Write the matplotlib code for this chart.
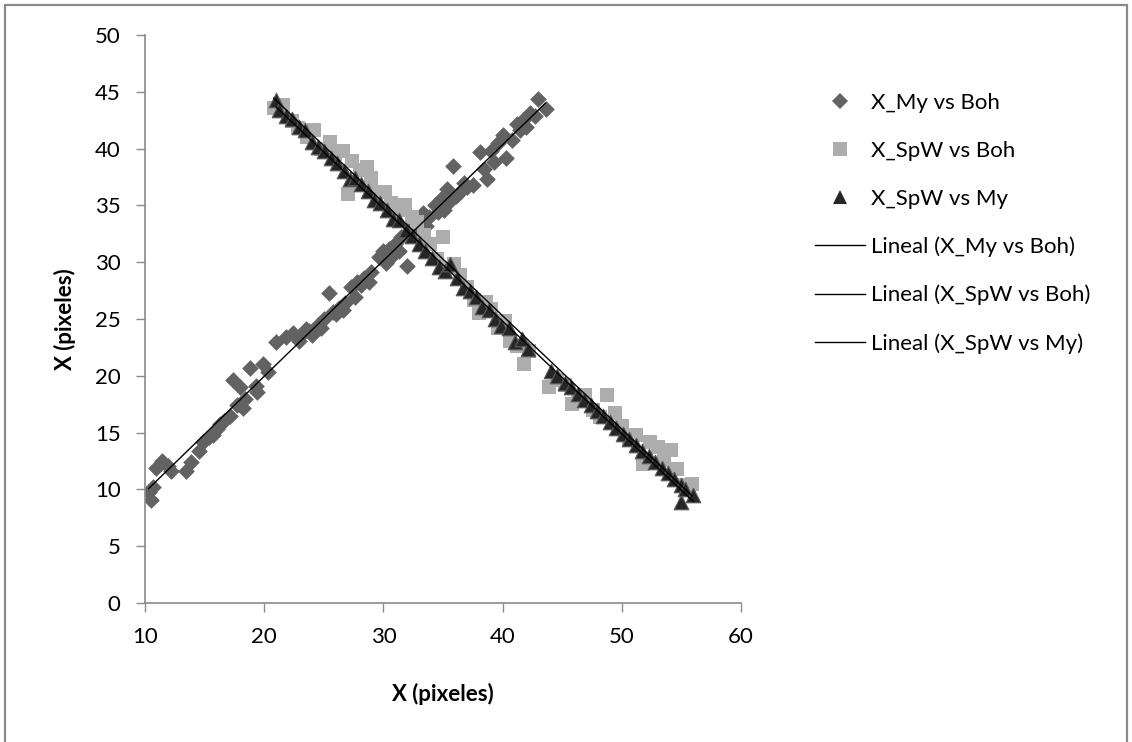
import numpy as np
import matplotlib
matplotlib.use("Agg")
import matplotlib.pyplot as plt
from matplotlib.lines import Line2D
from matplotlib.patches import Rectangle

plt.rcParams['font.family'] = ['Lato', 'DejaVu Sans']

# X_My vs Boh (rombos)
my_boh_x = [10.3, 10.5, 10.9, 11.4, 11.9, 13.4, 13.9, 14.5, 14.9, 15.4, 16.0, 16.6, 17.1,
            17.4, 17.7, 18.0, 18.4, 18.8, 19.3, 19.4, 19.9, 20.3, 21.0, 21.8, 22.4, 23.0,
            23.5, 24.0, 24.5, 25.0, 25.4, 25.8, 26.3, 26.8, 27.3, 27.8, 28.4, 29.0, 29.6,
            30.0, 30.5, 31.0, 31.5, 32.0, 32.3, 32.8, 33.3, 33.8, 34.3, 34.8, 35.3, 35.8,
            36.3, 36.8, 37.5, 38.1, 38.7, 39.0, 39.6, 40.0, 40.3, 40.8, 41.2, 41.8, 42.3,
            43.0, 43.6,
            10.7, 12.2, 15.7, 16.3, 18.2, 22.9, 23.8, 24.8, 26.0, 26.6, 27.6, 28.1, 28.8,
            30.2, 30.8, 31.3, 33.0, 33.6, 34.6, 35.1, 35.6, 36.1, 37.0, 38.4, 39.3, 41.5,
            42.0, 42.7]
my_boh_y = [9.8, 9.1, 11.9, 12.5, 12.1, 11.6, 12.4, 13.4, 14.2, 14.6, 15.3, 16.0, 16.5,
            19.6, 17.4, 19.0, 18.0, 20.7, 19.1, 18.6, 21.0, 20.3, 23.0, 23.4, 23.8, 23.5,
            24.1, 23.6, 24.5, 25.0, 27.3, 25.6, 26.0, 26.4, 27.8, 28.3, 28.6, 29.1, 30.5,
            31.0, 31.2, 31.6, 32.2, 29.7, 33.0, 33.5, 34.3, 34.0, 35.0, 35.6, 36.4, 38.5,
            36.0, 37.0, 36.8, 39.7, 37.3, 39.8, 40.5, 41.2, 39.2, 40.8, 42.2, 42.6, 43.1,
            44.4, 43.5,
            10.2, 11.6, 14.8, 15.8, 17.2, 23.1, 23.9, 24.2, 25.4, 25.8, 26.9, 28.0, 28.3,
            29.9, 30.6, 31.0, 32.6, 33.2, 34.4, 34.6, 35.4, 35.8, 36.6, 38.2, 38.8, 41.6,
            41.9, 42.9]

# X_SpW vs Boh (cuadrados)
spw_boh_x = [20.8, 21.6, 22.3, 22.8, 23.6, 24.2, 24.8, 25.5, 25.9, 26.6, 27.0, 27.4, 28.0,
             28.6, 29.0, 29.5, 30.1, 30.6, 31.2, 31.8, 32.4, 32.8, 33.4, 33.9, 34.5, 35.0,
             35.4, 35.9, 36.4, 37.0, 37.6, 38.0, 38.6, 39.0, 39.6, 40.2, 40.6, 41.2, 41.8,
             42.2, 43.9, 44.6, 45.2, 45.8, 46.3, 46.9, 47.6, 48.2, 48.8, 49.4, 50.0, 50.6,
             51.2, 51.8, 52.4, 53.0, 53.5, 54.1, 54.6, 55.2, 55.9]
spw_boh_y = [43.6, 43.8, 42.4, 41.8, 41.0, 41.6, 40.0, 40.6, 39.5, 39.8, 36.0, 38.9, 38.1,
             38.4, 37.4, 36.2, 36.2, 35.2, 34.6, 35.0, 34.0, 33.5, 32.4, 31.6, 30.3, 32.2,
             29.5, 29.8, 28.9, 27.8, 26.7, 25.5, 26.5, 25.9, 24.2, 24.8, 23.1, 22.6, 21.0,
             22.2, 19.0, 19.6, 19.2, 17.5, 18.1, 18.3, 17.0, 16.4, 18.3, 16.7, 15.6, 14.4,
             14.8, 12.2, 14.2, 13.7, 12.6, 13.5, 11.8, 10.4, 10.5]

# X_SpW vs My (triangulos)
spw_my_x = [21.0, 21.2, 21.8, 22.3, 22.9, 23.4, 24.0, 24.5, 25.0, 25.6, 26.1, 26.7, 27.2,
            27.6, 28.1, 28.7, 29.2, 29.7, 30.3, 30.8, 31.3, 31.9, 32.4, 33.0, 33.5, 34.1,
            34.7, 35.2, 35.6, 36.2, 36.7, 37.3, 37.8, 38.3, 38.9, 39.4, 39.9, 40.5, 41.0,
            41.6, 42.1, 44.1, 44.6, 45.2, 45.7, 46.3, 46.8, 47.4, 47.9, 48.4, 49.0, 49.5,
            50.1, 50.6, 51.2, 51.7, 52.3, 52.8, 53.4, 53.9, 54.4, 55.0, 55.0, 55.3, 56.0]
spw_my_y = [44.3, 43.4, 42.9, 42.6, 41.9, 41.6, 40.6, 40.1, 39.8, 39.2, 38.7, 38.0, 37.3,
            37.4, 36.9, 36.3, 35.5, 35.2, 34.6, 33.8, 33.7, 32.8, 32.3, 31.6, 31.0, 30.4,
            29.6, 29.2, 29.8, 28.6, 27.7, 27.5, 26.9, 26.1, 25.8, 25.0, 24.4, 24.2, 23.0,
            23.2, 22.4, 20.4, 20.0, 19.4, 19.0, 18.4, 17.9, 17.4, 16.9, 16.5, 15.9, 15.4,
            14.9, 14.4, 13.9, 13.4, 12.9, 12.4, 11.9, 11.4, 10.9, 10.4, 8.9, 10.0, 9.5]

labels = ['X_My vs Boh', 'X_SpW vs Boh', 'X_SpW vs My']
trend_labels = ['Lineal (X_My vs Boh)', 'Lineal (X_SpW vs Boh)', 'Lineal (X_SpW vs My)']

W, H = 1132, 742
fig = plt.figure(figsize=(W / 100, H / 100), dpi=100)
fig.patches.append(Rectangle((5 / W, -0.01), 1122 / W, 1 - 5 / H + 0.01, transform=fig.transFigure,
                             fill=False, edgecolor='#8a8a8a', linewidth=1.6))
ax = fig.add_axes([145 / W, 139 / H, 596 / W, 568 / H])

ax.scatter(my_boh_x, my_boh_y, marker='D', s=8.5 ** 2, color='#626262', linewidths=0, zorder=2)
ax.scatter(spw_boh_x, spw_boh_y, marker='s', s=10.5 ** 2, color='#adadad', linewidths=0, zorder=3)
ax.scatter(spw_my_x, spw_my_y, marker='^', s=10.5 ** 2, facecolor='#262626', edgecolor='#5a5a5a',
           linewidths=0.8, zorder=4)

for xs, ys in [(my_boh_x, my_boh_y), (spw_boh_x, spw_boh_y), (spw_my_x, spw_my_y)]:
    m, b = np.polyfit(xs, ys, 1)
    xx = np.array([min(xs), max(xs)])
    ax.plot(xx, m * xx + b, color='black', linewidth=1.0, zorder=5)

ax.set_xlim(10, 60)
ax.set_ylim(0, 50)
ax.set_xticks(range(10, 61, 10))
ax.set_yticks(range(0, 51, 5))
for s in ['top', 'right']:
    ax.spines[s].set_visible(False)
for s in ['left', 'bottom']:
    ax.spines[s].set_color('#8a8a8a')
    ax.spines[s].set_linewidth(1.2)
ax.tick_params(direction='out', length=6.5, width=1.0, color='#8a8a8a', labelsize=16, pad=11)
ax.set_xlabel('X (pixeles)', fontsize=16, fontweight='bold', labelpad=26)
ax.set_ylabel('X (pixeles)', fontsize=16, fontweight='bold', labelpad=14)

handles = [
    Line2D([], [], linestyle='none', marker='D', markersize=8, color='#626262', markeredgewidth=0),
    Line2D([], [], linestyle='none', marker='s', markersize=10.5, color='#adadad', markeredgewidth=0),
    Line2D([], [], linestyle='none', marker='^', markersize=10, color='#262626', markeredgewidth=0),
    Line2D([], [], color='black', linewidth=1.0),
    Line2D([], [], color='black', linewidth=1.0),
    Line2D([], [], color='black', linewidth=1.0),
]
fig.legend(handles, labels + trend_labels, loc='upper left', bbox_to_anchor=(815 / W, 1 - 93 / H),
           frameon=False, fontsize=16, handlelength=2.25, handletextpad=0.25, labelspacing=1.25,
           borderpad=0, borderaxespad=0)

fig.savefig('out.png', dpi=100)
